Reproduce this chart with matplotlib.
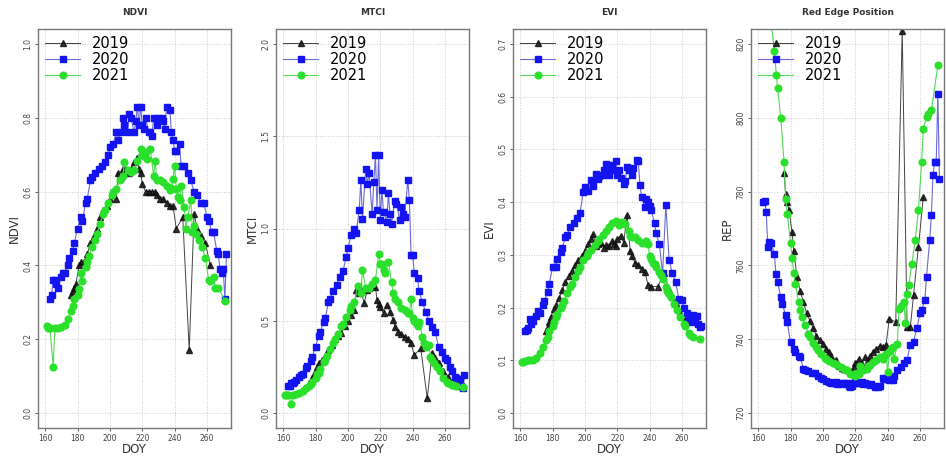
import matplotlib
matplotlib.use("Agg")
import matplotlib.pyplot as plt
import numpy as np

# day of year of each acquisition
doy_2019 = [176, 177, 178, 179, 181, 182, 184, 186, 188, 190, 192, 194, 196, 198, 200,
            202, 204, 205, 207, 208, 210, 212, 213, 215, 217, 218, 219, 220, 222, 224,
            226, 228, 229, 231, 233, 235, 237, 239, 241, 245, 249, 252, 254, 256, 259, 262]
doy_2020 = [163, 164, 165, 166, 167, 168, 170, 171, 172, 174, 175, 177, 178, 180, 182,
            183, 185, 186, 188, 189, 191, 193, 195, 197, 199, 200, 202, 204, 205, 207,
            208, 209, 211, 212, 213, 215, 216, 217, 218, 219, 220, 221, 222, 224, 225,
            226, 227, 229, 230, 232, 233, 234, 235, 237, 238, 239, 240, 241, 243, 244,
            246, 248, 250, 252, 254, 256, 258, 260, 261, 263, 264, 266, 267, 268, 269,
            270, 271, 272]
doy_2021 = [161, 162, 163, 165, 166, 168, 170, 172, 174, 176, 177, 178, 180, 181, 182,
            183, 185, 186, 187, 189, 191, 192, 194, 196, 197, 199, 201, 202, 204, 206,
            208, 209, 211, 213, 215, 217, 219, 220, 221, 222, 223, 225, 227, 228, 229,
            231, 233, 235, 237, 238, 239, 240, 241, 242, 243, 244, 246, 247, 248, 250,
            251, 252, 253, 255, 257, 259, 261, 262, 264, 265, 267, 271]

# NDVI
ndvi_2019 = [0.32, 0.33, 0.34, 0.35, 0.40, 0.41, 0.41, 0.43, 0.46, 0.48, 0.50, 0.53, 0.55,
             0.56, 0.58, 0.59, 0.58, 0.65, 0.64, 0.66, 0.66, 0.65, 0.66, 0.68, 0.69, 0.66,
             0.65, 0.62, 0.60, 0.60, 0.60, 0.60, 0.59, 0.58, 0.58, 0.57, 0.56, 0.56, 0.50,
             0.53, 0.17, 0.54, 0.50, 0.48, 0.46, 0.40]
ndvi_2020 = [0.31, 0.32, 0.36, 0.36, 0.35, 0.34, 0.37, 0.38, 0.38, 0.40, 0.42, 0.44, 0.46,
             0.50, 0.53, 0.52, 0.57, 0.58, 0.63, 0.64, 0.65, 0.66, 0.67, 0.68, 0.70, 0.72,
             0.73, 0.76, 0.74, 0.76, 0.80, 0.78, 0.76, 0.81, 0.80, 0.76, 0.79, 0.83, 0.78,
             0.83, 0.78, 0.77, 0.80, 0.76, 0.76, 0.75, 0.80, 0.78, 0.80, 0.80, 0.79, 0.77,
             0.83, 0.82, 0.76, 0.74, 0.71, 0.71, 0.73, 0.67, 0.67, 0.65, 0.63, 0.60, 0.59,
             0.57, 0.57, 0.53, 0.52, 0.49, 0.49, 0.44, 0.43, 0.39, 0.38, 0.39, 0.31, 0.43]
ndvi_2021 = [0.235, 0.232, 0.23, 0.125, 0.232, 0.232, 0.234, 0.24, 0.255, 0.277, 0.29, 0.31,
             0.32, 0.337, 0.38, 0.357, 0.395, 0.41, 0.425, 0.45, 0.47, 0.486, 0.513, 0.54,
             0.55, 0.57, 0.59, 0.60, 0.607, 0.63, 0.643, 0.68, 0.657, 0.652, 0.657, 0.684,
             0.715, 0.70, 0.697, 0.706, 0.688, 0.715, 0.643, 0.684, 0.63, 0.63, 0.625, 0.616,
             0.603, 0.61, 0.634, 0.67, 0.607, 0.585, 0.576, 0.616, 0.558, 0.50, 0.53, 0.576,
             0.49, 0.508, 0.486, 0.468, 0.45, 0.42, 0.36, 0.357, 0.37, 0.34, 0.34, 0.305]

# MTCI
mtci_2019 = [0.162, 0.175, 0.19, 0.21, 0.25, 0.27, 0.29, 0.31, 0.34, 0.37, 0.40, 0.42, 0.435,
             0.47, 0.50, 0.53, 0.56, 0.667, 0.649, 0.667, 0.595, 0.667, 0.68, 0.694, 0.685,
             0.613, 0.59, 0.577, 0.541, 0.586, 0.55, 0.505, 0.468, 0.441, 0.43, 0.415, 0.40,
             0.378, 0.315, 0.351, 0.081, 0.324, 0.30, 0.27, 0.23, 0.198]
mtci_2020 = [0.148, 0.15, 0.162, 0.165, 0.17, 0.18, 0.195, 0.207, 0.215, 0.243, 0.255, 0.285,
             0.306, 0.36, 0.42, 0.44, 0.495, 0.514, 0.60, 0.62, 0.66, 0.694, 0.74, 0.77, 0.847,
             0.892, 0.964, 1.0, 0.973, 1.10, 1.26, 1.05, 1.32, 1.24, 1.30, 1.08, 1.25, 1.40,
             1.10, 1.40, 1.045, 1.21, 1.09, 1.036, 1.19, 1.08, 1.027, 1.15, 1.135, 1.045,
             1.117, 1.08, 1.063, 1.26, 1.153, 0.856, 0.856, 0.757, 0.73, 0.66, 0.60, 0.55,
             0.50, 0.468, 0.44, 0.36, 0.33, 0.30, 0.288, 0.25, 0.23, 0.198, 0.19, 0.184,
             0.18, 0.15, 0.135, 0.205]
mtci_2021 = [0.099, 0.099, 0.099, 0.05, 0.10, 0.105, 0.11, 0.122, 0.135, 0.15, 0.16, 0.17,
             0.19, 0.21, 0.22, 0.24, 0.28, 0.29, 0.31, 0.35, 0.38, 0.40, 0.43, 0.47, 0.485,
             0.52, 0.56, 0.58, 0.60, 0.69, 0.65, 0.775, 0.68, 0.68, 0.70, 0.72, 0.86, 0.81,
             0.81, 0.775, 0.76, 0.82, 0.71, 0.65, 0.62, 0.60, 0.57, 0.56, 0.545, 0.54, 0.62,
             0.515, 0.50, 0.487, 0.47, 0.496, 0.414, 0.38, 0.36, 0.37, 0.306, 0.29, 0.27,
             0.25, 0.23, 0.19, 0.17, 0.162, 0.155, 0.153, 0.15, 0.14]

# EVI
evi_2019 = [0.155, 0.163, 0.172, 0.183, 0.198, 0.205, 0.218, 0.233, 0.248, 0.26, 0.27, 0.28,
            0.29, 0.298, 0.308, 0.32, 0.33, 0.339, 0.317, 0.32, 0.323, 0.313, 0.318, 0.317,
            0.326, 0.32, 0.317, 0.33, 0.336, 0.323, 0.376, 0.307, 0.297, 0.285, 0.28, 0.274,
            0.268, 0.243, 0.24, 0.24, 0.265, 0.234, 0.22, 0.208, 0.19, 0.176]
evi_2020 = [0.155, 0.158, 0.162, 0.178, 0.17, 0.175, 0.185, 0.194, 0.19, 0.205, 0.213, 0.23,
            0.245, 0.277, 0.277, 0.293, 0.305, 0.314, 0.333, 0.338, 0.352, 0.361, 0.37, 0.38,
            0.419, 0.429, 0.422, 0.441, 0.43, 0.454, 0.443, 0.45, 0.451, 0.46, 0.473, 0.451,
            0.464, 0.47, 0.46, 0.477, 0.451, 0.461, 0.445, 0.435, 0.44, 0.467, 0.461, 0.451,
            0.465, 0.48, 0.477, 0.432, 0.41, 0.39, 0.406, 0.40, 0.393, 0.385, 0.36, 0.342,
            0.32, 0.265, 0.395, 0.291, 0.265, 0.249, 0.217, 0.214, 0.20, 0.19, 0.18, 0.173,
            0.186, 0.176, 0.185, 0.17, 0.163, 0.165]
evi_2021 = [0.097, 0.098, 0.099, 0.10, 0.10, 0.10, 0.105, 0.115, 0.125, 0.138, 0.145, 0.155,
            0.165, 0.172, 0.182, 0.188, 0.20, 0.205, 0.213, 0.228, 0.24, 0.245, 0.258, 0.27,
            0.277, 0.29, 0.298, 0.303, 0.31, 0.318, 0.326, 0.33, 0.338, 0.345, 0.352, 0.36,
            0.364, 0.362, 0.356, 0.36, 0.362, 0.358, 0.345, 0.336, 0.334, 0.333, 0.328, 0.323,
            0.322, 0.326, 0.32, 0.297, 0.292, 0.285, 0.282, 0.278, 0.268, 0.262, 0.255, 0.24,
            0.232, 0.225, 0.22, 0.207, 0.195, 0.183, 0.17, 0.165, 0.152, 0.148, 0.144, 0.141]

# Red Edge Position (nm)
rep_2019 = [784.9, 779.4, 777.2, 775.0, 769.0, 764.0, 757.0, 753.0, 750.0, 747.0, 745.0,
            743.0, 741.0, 739.7, 738.8, 737.4, 736.5, 735.5, 733.8, 734.3, 732.9, 732.3,
            732.0, 731.6, 731.1, 731.5, 732.5, 733.5, 734.7, 733.4, 735.2, 734.3, 735.5,
            736.5, 737.4, 738.3, 737.9, 738.5, 745.6, 744.7, 823.5, 743.3, 743.3, 752.0,
            765.0, 778.4]
rep_2020 = [777.2, 777.5, 774.5, 765.0, 766.3, 766.0, 763.2, 757.8, 755.5, 751.4, 749.5,
            746.5, 744.7, 739.2, 737.4, 736.5, 735.5, 735.2, 732.0, 731.7, 731.5, 730.8,
            730.8, 730.2, 729.5, 729.3, 728.6, 728.4, 728.2, 728.1, 728.5, 727.9, 728.2,
            728.0, 728.3, 728.3, 727.5, 727.2, 727.5, 728.2, 728.6, 728.3, 728.1, 728.5,
            728.0, 728.3, 727.8, 727.7, 728.0, 727.2, 727.3, 727.2, 727.5, 729.5, 729.3,
            729.5, 729.5, 729.0, 729.0, 730.0, 731.8, 732.6, 733.5, 734.5, 738.5, 739.4,
            743.0, 747.0, 748.0, 750.7, 757.0, 767.0, 773.6, 784.4, 788.0, 788.0, 806.5,
            783.3]
rep_2021 = [845.0, 842.0, 840.0, 838.0, 835.0, 826.0, 818.0, 808.0, 800.0, 788.0, 778.0,
            774.0, 766.0, 762.0, 758.0, 755.0, 750.0, 748.0, 746.0, 744.0, 741.5, 740.5,
            739.0, 738.0, 737.0, 736.0, 735.0, 734.7, 734.0, 733.6, 733.4, 733.0, 732.5,
            732.0, 731.6, 730.7, 730.5, 730.2, 731.0, 730.5, 732.9, 731.6, 732.0, 732.9,
            733.0, 733.8, 734.5, 735.2, 734.7, 735.5, 736.0, 731.1, 736.5, 737.4, 738.0,
            734.7, 738.8, 748.3, 749.0, 750.1, 744.3, 752.4, 754.6, 760.5, 766.8, 775.0,
            788.0, 797.0, 800.2, 801.0, 802.0, 814.2]

panels = [
    ("NDVI", "NDVI", ndvi_2019, ndvi_2020, ndvi_2021, (-0.04, 1.04), [0.0, 0.2, 0.4, 0.6, 0.8, 1.0], "{:.1f}"),
    ("MTCI", "MTCI", mtci_2019, mtci_2020, mtci_2021, (-0.08, 2.08), [0.0, 0.5, 1.0, 1.5, 2.0], "{:.1f}"),
    ("EVI", "EVI", evi_2019, evi_2020, evi_2021, (-0.028, 0.728), [0.0, 0.1, 0.2, 0.3, 0.4, 0.5, 0.6, 0.7], "{:.1f}"),
    ("Red Edge Position", "REP", rep_2019, rep_2020, rep_2021, (716, 824), [720, 740, 760, 780, 800, 820], "{:.0f}"),
]
lefts = [38, 276, 513, 751]

fig = plt.figure(figsize=(9.46, 4.59), dpi=100)
for (title, ylab, v19, v20, v21, ylim, yticks, fmt), left in zip(panels, lefts):
    ax = fig.add_axes([left / 946, 1 - 428 / 459, 193 / 946, 399 / 459])
    ax.plot(doy_2019, v19, color="#222222", lw=0.7, marker="^", ms=5,
            mfc="#111111", mec="#111111", alpha=0.85, label="2019")
    ax.plot(doy_2020, v20, color="#6a6ad8", lw=0.8, marker="s", ms=4.5,
            mfc="#1414f0", mec="#1414f0", label="2020")
    ax.plot(doy_2021, v21, color="#55d855", lw=0.8, marker="o", ms=4.8,
            mfc="#2ae02a", mec="#2ae02a", label="2021")
    ax.set_xlim(155.6, 274.8)
    ax.set_ylim(*ylim)
    ax.set_xticks([160, 180, 200, 220, 240, 260])
    ax.set_yticks(yticks)
    ax.set_yticklabels([fmt.format(t) for t in yticks], rotation=90, va="center")
    ax.tick_params(labelsize=5.5, colors="#444444", length=2.5, width=0.6, pad=1.5)
    ax.grid(True, color="#cccccc", ls=":", lw=0.7)
    for s in ax.spines.values():
        s.set_color("#777777")
        s.set_linewidth(1.0)
    ax.set_title(title, fontsize=6.5, fontweight="bold", color="#333333", pad=10)
    ax.set_xlabel("DOY", fontsize=8.5, color="#333333", labelpad=0)
    ax.set_ylabel(ylab, fontsize=8.5, color="#333333", labelpad=2)
    ax.legend(loc="upper left", frameon=False, fontsize=10.5, handlelength=2.4,
              labelspacing=0.05, borderaxespad=0.2, handletextpad=0.8,
              borderpad=0.3)

fig.savefig("out.png", dpi=100)
